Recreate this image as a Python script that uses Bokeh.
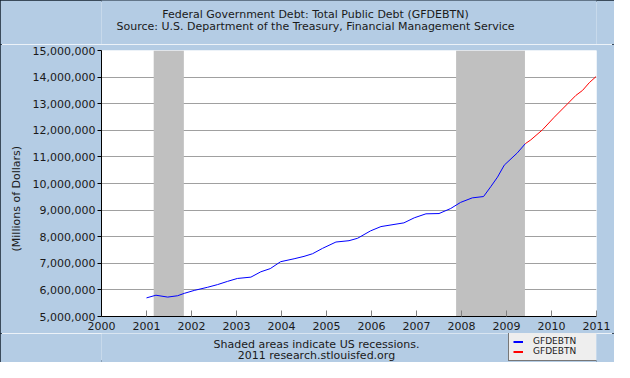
from bokeh.plotting import figure
from bokeh.layouts import column
from bokeh.models import (Range1d, FixedTicker, NumeralTickFormatter, Title,
                          Legend, LegendItem)
from bokeh.core.properties import value
from bokeh.embed import file_html
from bokeh.resources import INLINE

# ---- data ----
years_blue = [2001.00, 2001.21, 2001.47, 2001.69, 2001.84, 2002.06, 2002.36, 2002.58,
              2002.80, 2003.02, 2003.32, 2003.54, 2003.75, 2003.98, 2004.28, 2004.50,
              2004.69, 2004.91, 2005.21, 2005.50, 2005.69, 2005.98, 2006.21, 2006.50,
              2006.72, 2006.95, 2007.21, 2007.50, 2007.76, 2007.98, 2008.24, 2008.49,
              2008.65, 2008.80, 2008.95, 2009.24, 2009.42]
debt_blue = [5700000, 5800000, 5730000, 5780000, 5870000, 5980000, 6100000, 6200000,
             6320000, 6430000, 6480000, 6680000, 6800000, 7060000, 7170000, 7260000,
             7360000, 7560000, 7800000, 7850000, 7940000, 8220000, 8380000, 8460000,
             8520000, 8710000, 8860000, 8870000, 9060000, 9290000, 9460000, 9510000,
             9880000, 10240000, 10690000, 11150000, 11500000]
years_red = [2009.42, 2009.54, 2009.80, 2010.06, 2010.36, 2010.54, 2010.69, 2010.84, 2010.99]
debt_red = [11500000, 11640000, 12020000, 12490000, 13000000, 13310000, 13500000,
            13790000, 14020000]
recession_start = [2001.16, 2007.88]
recession_end = [2001.83, 2009.41]
x_ticks = [2000, 2001, 2002, 2003, 2004, 2005, 2006, 2007, 2008, 2009, 2010, 2011]
y_ticks = [5000000, 6000000, 7000000, 8000000, 9000000, 10000000, 11000000,
           12000000, 13000000, 14000000, 15000000]
series_names = ["GFDEBTN", "GFDEBTN"]
title_lines = ["Federal Government Debt: Total Public Debt (GFDEBTN)",
               "Source: U.S. Department of the Treasury, Financial Management Service"]
footer_lines = ["Shaded areas indicate US recessions.",
                "2011 research.stlouisfed.org"]
y_label = "(Millions of Dollars)"

FONT = "DejaVu Sans"
BG = "#B4CCE4"
TXT = "#1a1a1a"
W = 614
LEFT, RIGHT = 101, 18
H_HEAD, H_MAIN, H_FOOT = 44, 289, 29
NAN = float("nan")


def strip(h):
    # frame spans the same columns as the main plot; x in canvas pixels
    f = figure(width=W, height=h, output_backend="svg", toolbar_location=None,
               x_range=Range1d(LEFT, W - RIGHT), y_range=Range1d(h, 0),
               x_axis_location=None, y_axis_location=None, min_border=0,
               min_border_left=LEFT, min_border_right=RIGHT)
    f.grid.visible = False
    f.outline_line_color = None
    f.background_fill_color = BG
    f.border_fill_color = BG
    return f


# ---- header ----
head = strip(H_HEAD)
head.text(x=[315, 315], y=[14, 26], text=title_lines, text_font=value(FONT),
          text_font_size="11px", text_align="center", text_baseline="middle",
          text_color=TXT)

# ---- main plot ----
p = figure(width=W, height=H_MAIN, output_backend="svg", toolbar_location=None,
           x_range=Range1d(x_ticks[0], x_ticks[-1]),
           y_range=Range1d(y_ticks[0], y_ticks[-1]),
           min_border_left=LEFT, min_border_right=RIGHT, min_border_top=6,
           min_border_bottom=17)
p.border_fill_color = BG
p.background_fill_color = "white"
p.outline_line_color = None

p.xgrid.grid_line_color = None
p.ygrid.ticker = FixedTicker(ticks=y_ticks)
p.ygrid.grid_line_color = "#A0A0A0"
p.ygrid.grid_line_width = 1

p.quad(left=recession_start, right=recession_end,
       bottom=y_ticks[0], top=y_ticks[-1],
       fill_color="#C0C0C0", line_color=None)

rb = p.line(years_blue, debt_blue, line_color="#0000FF", line_width=1)
rr = p.line(years_red, debt_red, line_color="#FF0000", line_width=1)

xa = p.xaxis[0]
xa.ticker = FixedTicker(ticks=x_ticks)
xa.major_tick_in = 6
xa.major_tick_out = 0
xa.major_tick_line_color = "#808080"
xa.minor_tick_line_color = None
xa.axis_line_color = "black"
xa.major_label_standoff = 5
xa.major_label_text_font = FONT
xa.major_label_text_font_size = "11px"
xa.major_label_text_color = TXT

ya = p.yaxis[0]
ya.ticker = FixedTicker(ticks=y_ticks)
ya.formatter = NumeralTickFormatter(format="0,0")
ya.major_tick_in = 0
ya.major_tick_out = 4
ya.major_tick_line_color = "black"
ya.minor_tick_line_color = None
ya.axis_line_color = "black"
ya.major_label_standoff = 2
ya.major_label_text_font = FONT
ya.major_label_text_font_size = "11px"
ya.major_label_text_color = TXT

p.add_layout(Title(text=y_label, align="left", offset=65, text_font=FONT,
                   text_font_size="11px", text_font_style="normal",
                   text_color=TXT, standoff=13), "left")

# ---- footer ----
foot = strip(H_FOOT)
foot.text(x=[316, 316], y=[10.5, 22], text=footer_lines, text_font=value(FONT),
          text_font_size="11px", text_align="center", text_baseline="middle",
          text_color=TXT)
# legend swatches only (a single missing value: no mark is drawn)
lb = foot.line(x=[NAN], y=[NAN], line_color="#0000FF", line_width=2)
lr = foot.line(x=[NAN], y=[NAN], line_color="#FF0000", line_width=2)
legend = Legend(items=[LegendItem(label=series_names[0], renderers=[lb]),
                       LegendItem(label=series_names[1], renderers=[lr])],
                location=(407, 1))
legend.border_line_color = "black"
legend.border_line_width = 1
legend.background_fill_color = "#EEEEEE"
legend.background_fill_alpha = 1
legend.label_text_font = FONT
legend.label_text_font_size = "9px"
legend.label_text_color = "#222222"
legend.glyph_width = 10
legend.glyph_height = 9
legend.label_height = 9
legend.label_width = 60
legend.label_standoff = 10
legend.spacing = 0
legend.padding = 4
legend.margin = 0
foot.add_layout(legend)

layout = column(head, p, foot, spacing=0)
layout.styles = {"outline": "2px solid #13202e", "outline-offset": "-2px"}

open("out.html", "w").write(file_html(layout, INLINE))
